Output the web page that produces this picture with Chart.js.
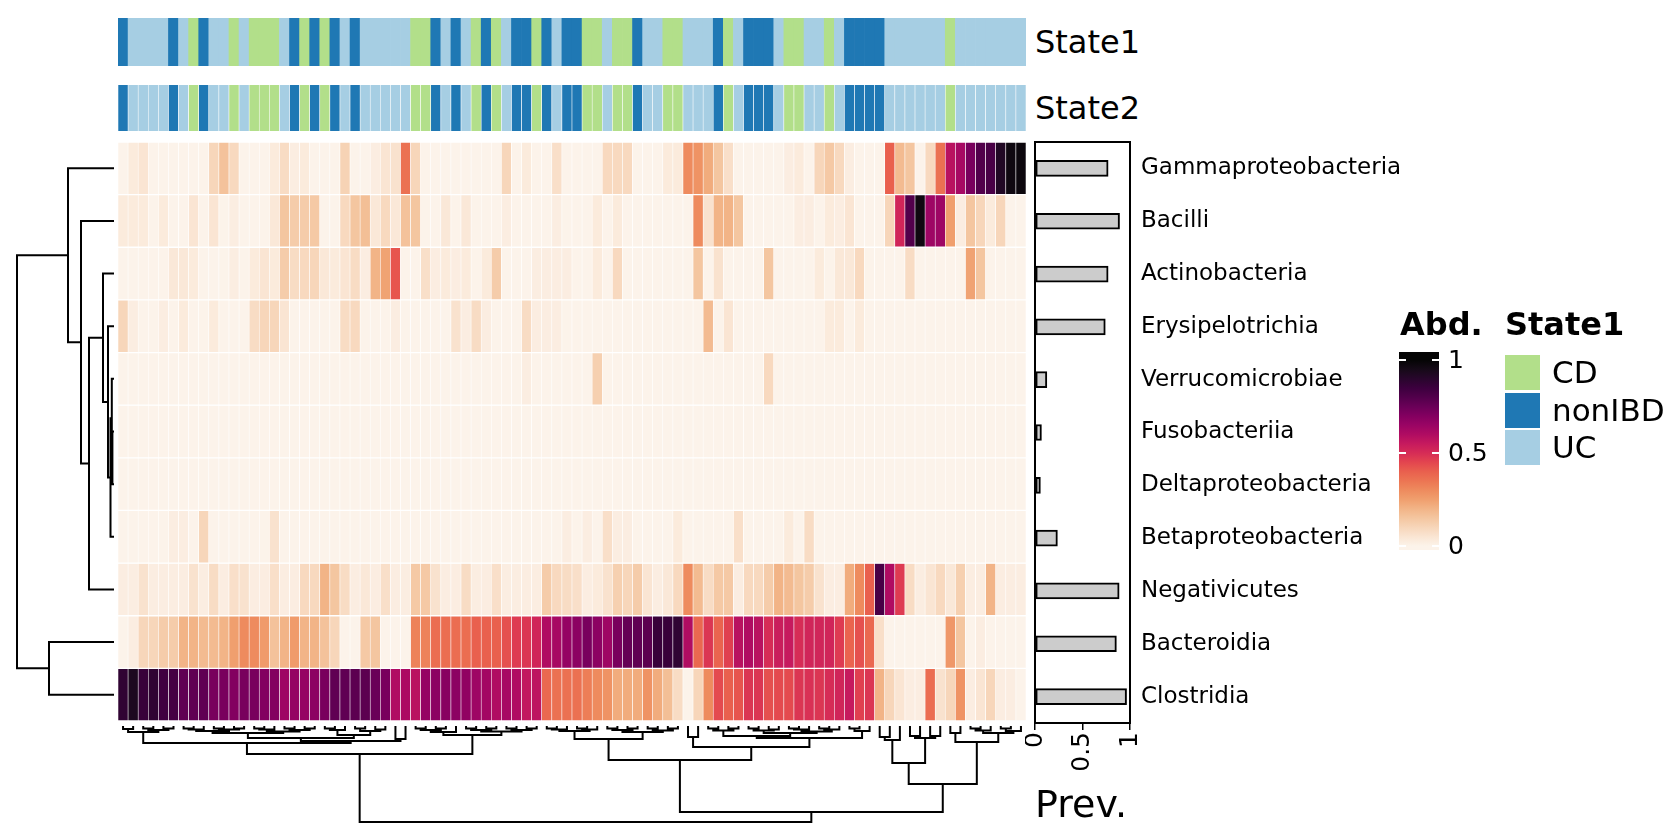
<!DOCTYPE html>
<html><head><meta charset="utf-8">
<script src="https://cdn.jsdelivr.net/npm/chart.js@4.4.0/dist/chart.umd.min.js"></script>
<style>
html,body{margin:0;padding:0;background:#fff;width:1680px;height:840px;overflow:hidden;font-family:"DejaVu Sans",sans-serif;color:#000;}
canvas{position:absolute;}
.t{position:absolute;white-space:nowrap;line-height:1;}
</style></head><body>
<script>
// ---------------- DATA ----------------
const taxa = ['Gammaproteobacteria','Bacilli','Actinobacteria','Erysipelotrichia','Verrucomicrobiae','Fusobacteriia','Deltaproteobacteria','Betaproteobacteria','Negativicutes','Bacteroidia','Clostridia'];
const prevalence = [0.77,0.89,0.77,0.74,0.125,0.068,0.057,0.236,0.886,0.857,0.964];
const stateNames = ['CD','nonIBD','UC'];
const stateColors = ['#b2df8a','#1f78b4','#a6cee3'];
// state of each sample column (State1 and State2 identical)
const states = [
 'nonIBD','UC','UC','UC','UC','nonIBD','UC','CD','nonIBD','UC',
 'UC','CD','UC','CD','CD','CD','UC','nonIBD','CD','nonIBD',
 'CD','nonIBD','UC','nonIBD','UC','UC','UC','UC','UC','CD',
 'CD','nonIBD','UC','nonIBD','UC','CD','nonIBD','CD','UC','nonIBD',
 'nonIBD','CD','nonIBD','UC','nonIBD','nonIBD','CD','CD','UC','CD',
 'CD','nonIBD','UC','UC','CD','CD','UC','UC','UC','nonIBD',
 'CD','UC','nonIBD','nonIBD','nonIBD','UC','CD','CD','UC','UC',
 'CD','UC','nonIBD','nonIBD','nonIBD','nonIBD','UC','UC','UC','UC',
 'UC','UC','CD','UC','UC','UC','UC','UC','UC','UC'];
const gammaproteobacteria = [0,0.03,0.05,0,0,0,0,0,0,0.1, 0.16,0.09,0,0,0,0.03,0.08,0.02,0.03,0, 0,0,0.11,0,0,0.02,0.05,0.06,0.36,0.1, 0,0,0,0,0,0,0,0,0.1,0, 0.03,0,0,0.07,0,0,0,0,0.09,0.09, 0.09,0,0,0,0.03,0.03,0.3,0.28,0.22,0.15, 0.07,0,0,0,0,0,0.02,0.03,0,0.1, 0.14,0.09,0.02,0,0,0,0.4,0.18,0.15,0, 0.09,0.36,0.58,0.62,0.72,0.8,0.82,0.92,0.97,0.98];
const bacilli = [0.03,0.03,0.03,0,0.03,0,0,0.05,0,0.05, 0,0.02,0,0,0,0.04,0.15,0.13,0.13,0.14, 0,0,0.09,0.15,0.17,0.04,0.09,0.04,0.16,0.15, 0,0,0.04,0,0.04,0,0,0,0.02,0, 0,0,0,0.02,0,0,0,0.03,0,0.03, 0,0,0,0,0,0,0,0.3,0.06,0.2, 0.2,0.15,0,0,0,0,0,0.02,0.02,0, 0.03,0.02,0.05,0,0,0,0.1,0.52,0.8,0.97, 0.64,0.64,0.25,0.02,0.15,0.1,0.03,0.1,0,0];
const actinobacteria = [0,0,0,0,0,0.04,0.04,0.03,0,0, 0,0.02,0,0.03,0.05,0.03,0.13,0.08,0.09,0.1, 0.04,0.03,0.05,0.08,0.02,0.2,0.24,0.42,0,0, 0.07,0.02,0.03,0.02,0.03,0,0.03,0.13,0,0, 0,0.02,0.02,0.02,0.02,0,0,0.03,0,0.09, 0,0,0,0,0,0,0,0.15,0,0.06, 0,0,0,0,0.15,0,0,0,0,0.03, 0,0.04,0.04,0.09,0,0,0,0,0.08,0, 0,0,0,0,0.24,0.15,0,0,0,0];
const erysipelotrichia = [0.1,0.02,0,0,0.02,0,0.03,0,0,0.03, 0,0,0,0.08,0.1,0.1,0.05,0,0,0, 0,0,0.08,0.09,0,0,0,0.02,0,0, 0,0,0,0.06,0.02,0.08,0.02,0,0,0, 0.08,0.02,0.02,0.02,0,0,0,0,0,0, 0,0,0,0,0,0,0,0,0.18,0, 0.05,0,0,0,0,0,0,0,0,0, 0.03,0.03,0,0.03,0,0,0,0,0,0, 0,0,0,0,0,0,0,0,0,0];
const verrucomicrobiae = [0,0,0,0,0,0,0,0,0,0, 0,0,0,0,0,0,0,0,0,0, 0,0,0,0,0,0,0,0,0,0, 0,0,0,0,0,0,0,0,0,0, 0.02,0,0,0,0,0,0,0.12,0,0, 0,0,0,0,0,0,0,0,0,0, 0,0,0,0,0.09,0,0,0,0,0, 0,0,0,0,0,0,0,0,0,0, 0,0,0,0,0,0,0,0,0,0];
const fusobacteriia = [0,0,0,0,0,0,0,0,0,0, 0,0,0,0,0,0,0,0,0,0, 0,0,0,0,0,0,0,0,0,0, 0,0,0,0,0,0,0,0,0,0, 0,0,0,0,0,0,0,0,0,0, 0,0,0,0,0,0,0,0,0,0, 0,0,0,0,0,0,0,0,0,0, 0,0,0,0,0,0,0,0,0,0, 0,0,0,0,0,0,0,0,0,0];
const deltaproteobacteria = [0,0,0,0,0,0,0,0,0,0, 0,0,0,0,0,0,0,0,0,0, 0,0,0,0,0,0,0,0,0,0, 0,0,0,0,0,0,0,0,0,0, 0,0,0,0,0,0,0,0,0,0, 0,0,0,0,0,0,0,0,0,0, 0,0,0,0,0,0,0,0,0,0, 0,0,0,0,0,0,0,0,0,0, 0,0,0,0,0,0,0,0,0,0];
const betaproteobacteria = [0,0,0,0,0,0.02,0.02,0,0.1,0, 0,0,0,0,0,0.06,0,0,0,0, 0,0,0,0,0,0,0,0,0,0, 0,0,0,0,0,0,0,0,0,0, 0,0,0,0,0.02,0,0.02,0,0.07,0.02, 0.02,0,0,0,0,0.03,0,0,0,0, 0,0.07,0,0,0,0,0.03,0,0.08,0, 0,0,0,0,0,0,0,0,0,0, 0,0,0,0,0,0,0,0,0,0];
const negativicutes = [0.02,0.02,0.06,0.02,0.02,0.02,0.02,0.06,0.02,0.08, 0.02,0.07,0.06,0.02,0.02,0.07,0.02,0.02,0.09,0.09, 0.2,0.15,0.08,0.02,0.04,0.02,0.07,0.02,0.02,0.14, 0.14,0.06,0.02,0.02,0.08,0.02,0.02,0.07,0.02,0.02, 0.02,0.02,0.13,0.09,0.08,0.07,0.02,0.03,0.06,0.12, 0.1,0.13,0.05,0.02,0.04,0.09,0.3,0.18,0.08,0.14, 0.14,0.02,0.09,0.09,0.13,0.2,0.18,0.15,0.13,0.06, 0.02,0.02,0.22,0.3,0.4,0.82,0.6,0.47,0.08,0.02, 0.05,0.09,0.04,0.12,0.02,0.02,0.2,0.02,0.02,0.02];
const bacteroidia = [0,0.02,0.1,0.1,0.13,0.13,0.2,0.2,0.18,0.18, 0.2,0.25,0.3,0.3,0.26,0.16,0.2,0.26,0.2,0.2, 0.16,0.1,0,0,0.14,0.15,0,0,0,0.32, 0.32,0.37,0.37,0.37,0.37,0.4,0.4,0.4,0.43,0.47, 0.48,0.52,0.6,0.62,0.66,0.68,0.72,0.68,0.64,0.72, 0.76,0.77,0.78,0.86,0.86,0.88,0.6,0.38,0.48,0.39, 0.46,0.58,0.6,0.58,0.5,0.54,0.55,0.5,0.52,0.52, 0.52,0.47,0.39,0.43,0.38,0.07,0,0,0,0, 0,0,0.27,0.15,0,0.02,0,0,0,0];
const clostridia = [0.88,0.93,0.86,0.88,0.84,0.83,0.77,0.77,0.77,0.72, 0.72,0.7,0.72,0.72,0.7,0.7,0.64,0.66,0.66,0.68, 0.72,0.77,0.77,0.78,0.78,0.75,0.72,0.6,0.61,0.58, 0.66,0.68,0.69,0.68,0.67,0.64,0.63,0.6,0.62,0.6, 0.56,0.57,0.38,0.36,0.36,0.36,0.33,0.3,0.28,0.22, 0.22,0.22,0.28,0.22,0.17,0.08,0,0.1,0.3,0.44, 0.4,0.42,0.48,0.48,0.43,0.44,0.44,0.48,0.49,0.48, 0.5,0.52,0.55,0.46,0.48,0.2,0.1,0.05,0.02,0.02, 0.37,0.06,0.1,0.28,0.02,0.05,0.1,0.02,0.02,0];
const abundanceRows = [gammaproteobacteria,bacilli,actinobacteria,erysipelotrichia,verrucomicrobiae,fusobacteriia,deltaproteobacteria,betaproteobacteria,negativicutes,bacteroidia,clostridia];
// row dendrogram: [height, left, right], leaves = row number (1..11)
const rowTree = [96, [45, 1, [32, 2, [24, [10, 3, [5, 4, [2.5, [1.2, 5, [0.6, 6, 7]], 8]]], 9]]], [64, 10, 11]];
// column dendrogram: leaves = column number (1..90)
const colTreeL = [27,
  [16, [5, [2, 1, 2], [3, [1.5, 3, 4], [1.5, 5, 6]]],
       [14, [11, [6, [4, [2.5, [1.5,7,8], 9], [2.5, [1.5,10,11], [1.5,12,13]]], [4.5, [2.5, [1.5,14,15], 16], [3, [1.5,17,18], [1.5,19,20]]]],
                 [8, [3, [1.5,21,22], 23], [4, [1.5,24,25], [2.5,26,27]]]],
            [12, 28, 29]]],
  [8, [5, [3, [1.5,30,31], [1.5,32,33]], 34], [4.5, [3, [1.5,35,36], [1.5,37,38]], [3, [1.5,39,40], [1.5,41,42]]]]];
const colTreeR = [85,
  [33, [12, [4, [2.5, [1.5,43,44], 45], [2.5, [1.5,46,47], 48]], [5, [3, [1.5,49,50], [1.5,51,52]], [3.5, [1.5,53,54], [1.5,55,56]]]],
       [20, [10, 57, 58], [11, [9, [3.5, [1.5,59,60], [1.5,61,62]], [6, [3.5, [1.5,63,64], [2.5,65,66]], [4.5, [2.5,[1.5,67,68],69], [2.5,[1.5,70,71],72]]]], [4, [1.5,73,74], 75]]]],
  [57, [36, [13, [10, 76, 77], 78], [11, [9,79,80], [9,81,82]]], [15, [6, 83, 84], [6, [3.5, [1.5,85,86], 87], [4, [1.5,88,89], 90]]]]];
const colTree = [95, colTreeL, colTreeR];
const abdTicks = [0, 0.5, 1];
const prevTicks = [0, 0.5, 1];

// ---------------- STYLE ----------------
const abdStops = [[0,'#fcf3ea'],[0.05,'#fae5d3'],[0.1,'#f7d6ba'],[0.15,'#f4c6a0'],[0.2,'#f2b487'],[0.25,'#f09f6e'],[0.3,'#ee8b5e'],[0.35,'#ec7553'],[0.4,'#e9604e'],[0.45,'#e3454f'],[0.5,'#d62c56'],[0.55,'#c61a5e'],[0.6,'#b00c62'],[0.65,'#9a0464'],[0.7,'#830060'],[0.75,'#6a0058'],[0.8,'#52004b'],[0.85,'#3c003e'],[0.9,'#28062c'],[0.95,'#160a18'],[1,'#050505']];
function hex2rgb(h){return [parseInt(h.slice(1,3),16),parseInt(h.slice(3,5),16),parseInt(h.slice(5,7),16)];}
function abdColor(v){
  v=Math.max(0,Math.min(1,v));
  for(let i=1;i<abdStops.length;i++){
    if(v<=abdStops[i][0]){
      const [a,ca]=abdStops[i-1],[b,cb]=abdStops[i];
      const t=(v-a)/(b-a), A=hex2rgb(ca), B=hex2rgb(cb);
      return 'rgb('+A.map((x,k)=>Math.round(x+(B[k]-x)*t)).join(',')+')';
    }
  }
  return abdStops[abdStops.length-1][1];
}
Chart.defaults.font.family = "'DejaVu Sans'";
Chart.defaults.color = '#000';
Chart.defaults.animation = false;

function makeCanvas(left, top, w, h){
  const c=document.createElement('canvas');
  c.width=w; c.height=h;
  c.style.left=left+'px'; c.style.top=top+'px';
  c.style.width=w+'px'; c.style.height=h+'px';
  document.body.appendChild(c);
  return c;
}
function text(str, left, top, size, bold){
  const d=document.createElement('div');
  d.className='t'; d.textContent=str;
  d.style.left=left+'px'; d.style.top=top+'px';
  d.style.fontSize=size+'px'; if(bold) d.style.fontWeight='bold';
  document.body.appendChild(d); return d;
}
const noPlug = {legend:{display:false},tooltip:{enabled:false}};

// geometry
const HX=118, HW=908, HY=142, HH=579;
const samples = states.map((s,i)=>'S'+(i+1));

// ---------- state strips ----------
function stripChart(top, h, gap){
  new Chart(makeCanvas(HX, top, HW, h), {
    type:'bar',
    data:{labels:samples, datasets:[{data:states.map(()=>[0,1]),
      backgroundColor:states.map(s=>stateColors[stateNames.indexOf(s)]),
      borderColor:'#ffffff', borderWidth: gap?{left:0.6,right:0.6,top:0,bottom:0}:0, borderSkipped:false,
      barPercentage:1, categoryPercentage:1}]},
    options:{responsive:false, animation:false, layout:{padding:0, autoPadding:false}, plugins:noPlug,
      scales:{x:{display:false}, y:{display:false,min:0,max:1}}}
  });
}
stripChart(18, 48, false);
stripChart(85, 46, true);
text('State1', 1035, 26, 32);
text('State2', 1035, 92, 32);

// ---------- heatmap ----------
new Chart(makeCanvas(HX, HY, HW, HH), {
  type:'bar',
  data:{labels:samples, datasets:abundanceRows.map((row,r)=>({
    label:taxa[r], data:row.map(()=>[r,r+1]), backgroundColor:row.map(abdColor),
    borderColor:'#ffffff', borderWidth:{left:0.6,right:0.6,top:1,bottom:1}, borderSkipped:false,
    grouped:false, barPercentage:1, categoryPercentage:1}))},
  options:{responsive:false, animation:false, layout:{padding:0, autoPadding:false}, plugins:noPlug,
    scales:{x:{display:false}, y:{display:false,min:0,max:abundanceRows.length,reverse:true}}}
});

// ---------- dendrograms ----------
function treeSegments(node, pts, posOf){
  if(typeof node==='number') return {p:posOf(node), h:0};
  const [h,a,b]=node;
  const A=treeSegments(a,pts,posOf), B=treeSegments(b,pts,posOf);
  pts.push({p:A.p,h:A.h},{p:A.p,h:h},{p:B.p,h:h},{p:B.p,h:B.h},null);
  return {p:(A.p+B.p)/2, h:h};
}
const rowPts=[]; treeSegments(rowTree,rowPts,r=>r-0.5);
const colPts=[]; treeSegments(colTree,colPts,c=>c);
const dendroDs = (data)=>({data, showLine:true, pointRadius:0, borderColor:'#000', backgroundColor:'#000', borderWidth:2, spanGaps:false, clip:false, tension:0, borderCapStyle:'square', borderJoinStyle:'miter'});
new Chart(makeCanvas(0, HY, 118, HH), {
  type:'scatter',
  data:{datasets:[dendroDs(rowPts.map(q=>q?{x:q.h,y:q.p}:{x:NaN,y:NaN}))]},
  options:{responsive:false, animation:false, layout:{padding:0, autoPadding:false}, plugins:noPlug,
    scales:{x:{type:'linear',display:false,min:-5,max:113,reverse:true}, y:{type:'linear',display:false,min:0,max:abundanceRows.length,reverse:true}}}
});
new Chart(makeCanvas(HX, 721, HW, 110), {
  type:'scatter',
  data:{datasets:[dendroDs(colPts.map(q=>q?{x:q.p,y:q.h}:{x:NaN,y:NaN}))]},
  options:{responsive:false, animation:false, layout:{padding:0, autoPadding:false}, plugins:noPlug,
    scales:{x:{type:'linear',display:false,min:0.5,max:states.length+0.5}, y:{type:'linear',display:false,min:-6,max:104,reverse:true}}}
});

// ---------- prevalence bars + labels ----------
const zeroPad = s=>{s.paddingTop=0;s.paddingBottom=0;s.paddingLeft=0;s.paddingRight=0;};
new Chart(makeCanvas(1025, 132, 400, 700), {
  type:'bar',
  data:{labels:taxa, datasets:[{data:prevalence, backgroundColor:'#cccccc', borderColor:'#000', borderWidth:2, borderSkipped:false, barThickness:16, xAxisID:'x', yAxisID:'y'}]},
  options:{indexAxis:'y', responsive:false, animation:false, plugins:noPlug,
    layout:{padding:{left:10, top:10, right:0, bottom:0}, autoPadding:false},
    scales:{
      x:{type:'linear', position:'bottom', min:0, max:1,
         afterBuildTicks:s=>{s.ticks=prevTicks.map(v=>({value:v}));},
         ticks:{minRotation:90, maxRotation:90, autoSkip:false, padding:2, color:'#000', font:{size:25}, callback:v=>String(v)},
         grid:{display:true, drawOnChartArea:false, drawTicks:true, tickLength:7, color:'#000', lineWidth:1.5},
         border:{display:true, color:'#000', width:2},
         title:{display:true, text:'Prev.', align:'start', color:'#000', font:{size:38}, padding:{top:0,bottom:2}},
         afterFit:s=>{s.height=109; zeroPad(s);}},
      xTop:{type:'linear', position:'top', min:0, max:1, ticks:{display:false}, grid:{display:false}, border:{display:true,color:'#000',width:2}, afterFit:s=>{s.height=0; zeroPad(s);}},
      y:{type:'category', position:'right', ticks:{color:'#000', font:{size:23}, padding:3}, grid:{display:false}, border:{display:true,color:'#000',width:2}, afterFit:s=>{s.width=295; zeroPad(s);}},
      yLeft:{type:'linear', position:'left', ticks:{display:false}, grid:{display:false}, border:{display:true,color:'#000',width:2}, afterFit:s=>{s.width=0; zeroPad(s);}}
    }}
});

// ---------- legends ----------
text('Abd.', 1400, 308, 32, true);
text('State1', 1505, 308, 32, true);
const bar=document.createElement('div');
bar.style.cssText='position:absolute;left:1399px;top:352px;width:40px;height:198px;';
bar.style.background='linear-gradient(to top,'+abdStops.map(([v,c])=>c+' '+(4+v*186).toFixed(1)+'px').join(',')+')';
document.body.appendChild(bar);
abdTicks.forEach(v=>{
  const y=546-v*186;
  [1399,1432].forEach(x=>{const t=document.createElement('div');t.style.cssText='position:absolute;left:'+x+'px;top:'+(y-1)+'px;width:7px;height:2px;background:#fff;';document.body.appendChild(t);});
  text(String(v),1448,y-13,25);
});
stateNames.forEach((s,i)=>{
  const top=355+i*37.5;
  const sq=document.createElement('div');
  sq.style.cssText='position:absolute;left:1505px;top:'+top+'px;width:35px;height:35px;background:'+stateColors[i]+';';
  document.body.appendChild(sq);
  text(s,1552,top+2,31);
});
</script>
</body></html>
